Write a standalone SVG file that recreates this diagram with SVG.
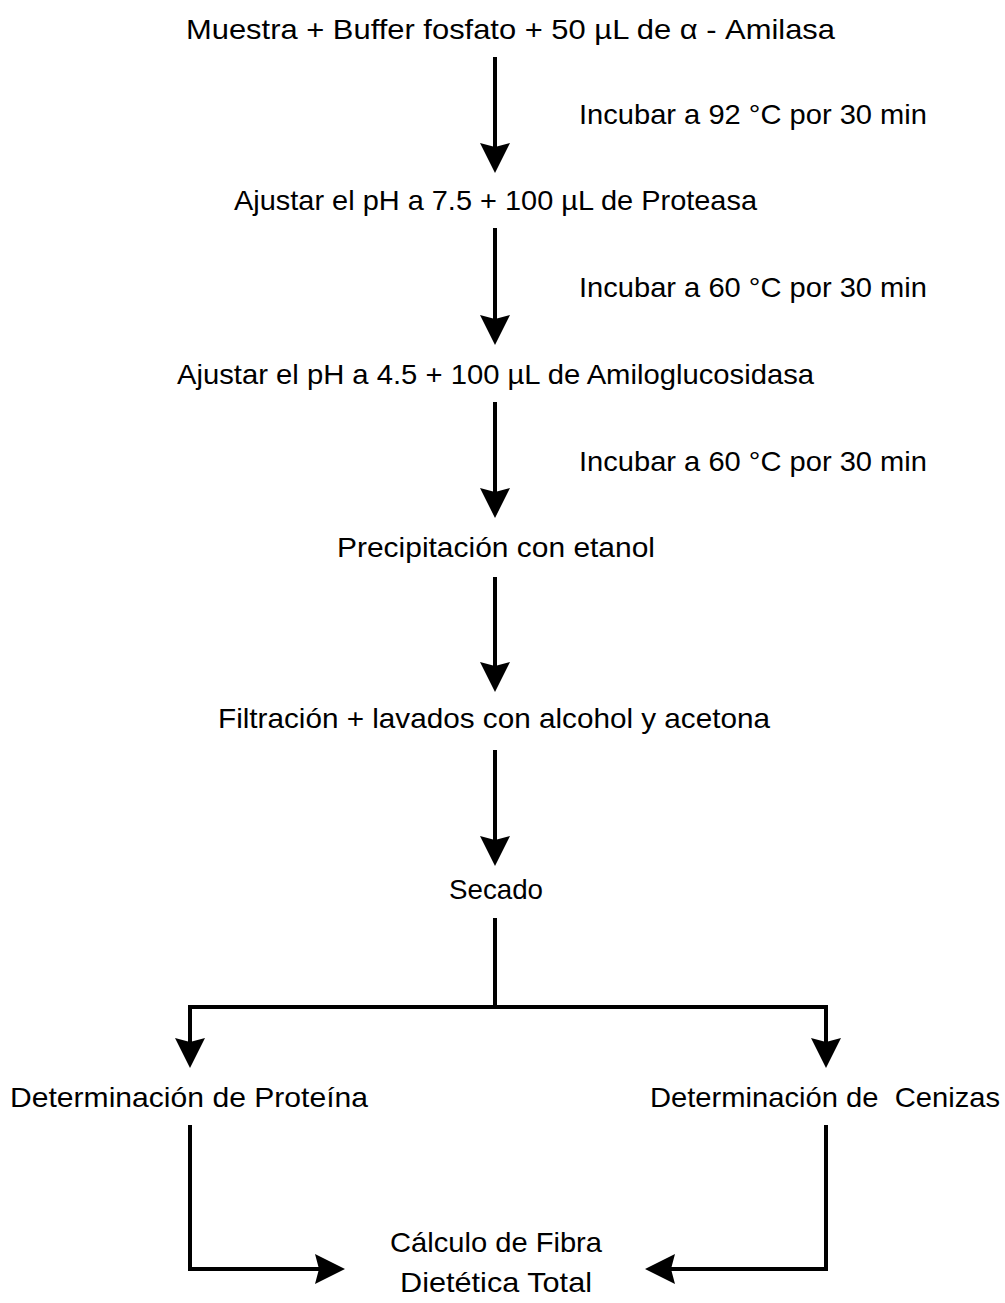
<svg xmlns="http://www.w3.org/2000/svg" width="1005" height="1303" viewBox="0 0 1005 1303">
<style>
text{font-family:"Liberation Sans",Arial,sans-serif;font-size:28.5px;fill:#000}
.c{fill:none;stroke:#000;stroke-width:4;stroke-linejoin:miter}
</style>
<defs>
<marker id="ah" markerUnits="userSpaceOnUse" viewBox="-11 -16 32 32" refX="0" refY="0" markerWidth="32" markerHeight="32" orient="auto">
<path d="M20,0 L-10,-15 L-6,0 L-10,15 Z" fill="#000"/>
</marker>
</defs>
<rect width="1005" height="1303" fill="#fff"/>
<g id="connectors">
<path class="c" d="M495,57 V153" marker-end="url(#ah)"/>
<path class="c" d="M495,228 V325" marker-end="url(#ah)"/>
<path class="c" d="M495,402 V498" marker-end="url(#ah)"/>
<path class="c" d="M495,577 V672" marker-end="url(#ah)"/>
<path class="c" d="M495,750 V846" marker-end="url(#ah)"/>
<path class="c" d="M495,918 V1007"/>
<path class="c" d="M495,1007 H190 V1048" marker-end="url(#ah)"/>
<path class="c" d="M495,1007 H826 V1048" marker-end="url(#ah)"/>
<path class="c" d="M190,1125 V1269 H325" marker-end="url(#ah)"/>
<path class="c" d="M826,1125 V1269 H665" marker-end="url(#ah)"/>
</g>
<g id="n1"><text x="186" y="39" textLength="649" lengthAdjust="spacingAndGlyphs">Muestra + Buffer fosfato + 50 µL de α - Amilasa</text></g>
<g id="l1"><text x="579" y="124" textLength="348" lengthAdjust="spacingAndGlyphs">Incubar a 92 °C por 30 min</text></g>
<g id="n2"><text x="234" y="210" textLength="523" lengthAdjust="spacingAndGlyphs">Ajustar el pH a 7.5 + 100 µL de Proteasa</text></g>
<g id="l2"><text x="579" y="297" textLength="348" lengthAdjust="spacingAndGlyphs">Incubar a 60 °C por 30 min</text></g>
<g id="n3"><text x="177" y="384" textLength="637" lengthAdjust="spacingAndGlyphs">Ajustar el pH a 4.5 + 100 µL de Amiloglucosidasa</text></g>
<g id="l3"><text x="579" y="471" textLength="348" lengthAdjust="spacingAndGlyphs">Incubar a 60 °C por 30 min</text></g>
<g id="n4"><text x="337" y="557" textLength="318" lengthAdjust="spacingAndGlyphs">Precipitación con etanol</text></g>
<g id="n5"><text x="218" y="728" textLength="552" lengthAdjust="spacingAndGlyphs">Filtración + lavados con alcohol y acetona</text></g>
<g id="n6"><text x="449" y="899" textLength="94" lengthAdjust="spacingAndGlyphs">Secado</text></g>
<g id="n7"><text x="10" y="1107" textLength="358" lengthAdjust="spacingAndGlyphs">Determinación de Proteína</text></g>
<g id="n8"><text x="650" y="1107" textLength="350" lengthAdjust="spacingAndGlyphs" xml:space="preserve" style="white-space:pre">Determinación de  Cenizas</text></g>
<g id="n9"><text x="390" y="1252" textLength="212" lengthAdjust="spacingAndGlyphs">Cálculo de Fibra</text><text x="400" y="1292" textLength="192" lengthAdjust="spacingAndGlyphs">Dietética Total</text></g>
</svg>
